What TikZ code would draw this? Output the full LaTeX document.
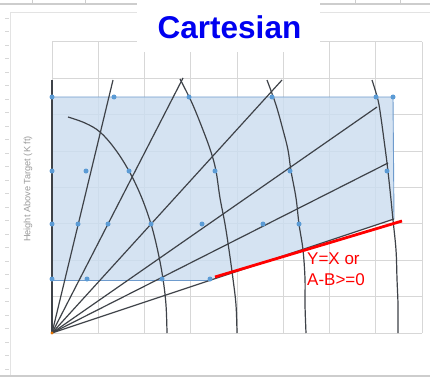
\documentclass[tikz,border=0pt]{standalone}
\usepackage{fontspec}
\setmainfont{Liberation Sans}
\definecolor{gridgray}{RGB}{215,215,215}
\definecolor{sheetgray}{RGB}{205,205,205}
\definecolor{bluefill}{RGB}{204,222,240}
\definecolor{blueedge}{RGB}{110,155,205}
\definecolor{dotblue}{RGB}{91,155,213}
\definecolor{curvegray}{RGB}{62,66,72}
\definecolor{labgray}{RGB}{155,155,155}
\definecolor{titleblue}{RGB}{0,0,240}
\begin{document}
\begin{tikzpicture}[x=1pt,y=-1pt,
  gridline/.style={draw=gridgray,line width=1pt},
  sheetline/.style={draw=sheetgray,line width=0.8pt},
  trace/.style={draw=curvegray,line width=1.2pt},
  bdot/.style={fill=dotblue,draw=none,circle,inner sep=0pt,minimum size=5pt},
  redlab/.style={text=red,font=\fontsize{17}{21}\selectfont,align=left,inner sep=0pt,anchor=north west}]
\useasboundingbox (0,0) rectangle (430,377);
\fill[white] (0,0) rectangle (430,377);
% spreadsheet frame
\draw[sheetline,line width=1.3pt] (0,4) -- (430,4);
\foreach \xx in {32,85,355,400} \draw[sheetline] (\xx,0) -- (\xx,4);
\draw[draw=gridgray!70,line width=0.8pt] (430,12) -- (10,12) -- (10,377);
\draw[draw=sheetgray,line width=2pt] (0,376) -- (430,376);
\foreach \yy in {18,31.5,...,370} \draw[draw=gridgray,line width=0.6pt] (5,\yy) -- (9,\yy);
% y-axis label
\node[rotate=90,text=labgray,font=\fontsize{9.2}{10}\selectfont,inner sep=0pt] (ylab) at (28,189) {Height Above Target (K ft)};
% chart grid
\foreach \i in {0,...,8} \draw[gridline] ({52+\i*46.25},42) -- ({52+\i*46.25},333);
\foreach \j in {0,...,8} \draw[gridline] (52,{42+\j*36.375}) -- (422,{42+\j*36.375});
% origin and ray ends
\coordinate (O) at (52,333);
\coordinate (r1) at (52,80);
\coordinate (r2) at (113,80);
\coordinate (r3) at (183,78);
\coordinate (r4) at (282,80);
\coordinate (r5) at (377,107);
\coordinate (r6) at (388,163);
\coordinate (r7) at (394,219);
% blue region
\fill[bluefill,fill opacity=0.82] (52,97) -- (393,97) -- (r7) -- (210,280) -- (52,280) -- cycle;
\draw[blueedge,line width=0.9pt] (52,280) -- (210,280);
\draw[blueedge,line width=0.9pt] (52,97) -- (393,97) -- (r7);
% rays
\foreach \r in {r1,r2,r3,r4,r5,r6,r7} \draw[trace] (O) -- (\r);
% curves
\draw[trace] plot[smooth,tension=0.6] coordinates {(68,117) (85,123) (100,132) (115,149) (129,171) (141,196) (151,224) (158,252) (163,279) (166,305) (167,333)};
\draw[trace] plot[smooth,tension=0.6] coordinates {(180,79) (192,103) (203,130) (211,152) (216,171) (220,198) (225,224) (229,250) (233,279) (236,305) (237,333)};
\draw[trace] plot[smooth,tension=0.6] coordinates {(267,80) (276,105) (283,130) (288,150) (291,171) (296,198) (299,224) (303,250) (305,279) (305,305) (306,333)};
\draw[trace] plot[smooth,tension=0.6] coordinates {(372,80) (378,100) (381,118) (384,140) (387,163) (390,190) (393,220) (396,250) (397,279) (398,305) (398,333)};
% dots
\foreach \p in {(52,97),(114,97),(189,97),(272,97),(376,97),(393,97),
  (52,171),(86,171),(129,171),(215,171),(290,171),(387,171),
  (52,224),(78,224),(108,224),(151,224),(202,224),(263,224),(299,224),
  (52,279),(87,279),(162,279),(210,279)}
  \node[bdot] at \p {};
\fill[orange!90!black] (O) circle (1.7);
% red line and label
\coordinate (redA) at (215,277);
\coordinate (redB) at (402,221);
\draw[red,line width=2.8pt] (redA) -- (redB);
\node[redlab] (lab) at (307,253) {Y=X or\\A-B>=0};
% title
\fill[white] (137,0) rectangle (320,52);
\node[text=titleblue,font=\fontsize{31.5}{36}\selectfont\bfseries,inner sep=0pt] (title) at (229.5,27) {Cartesian};
\end{tikzpicture}
\end{document}
